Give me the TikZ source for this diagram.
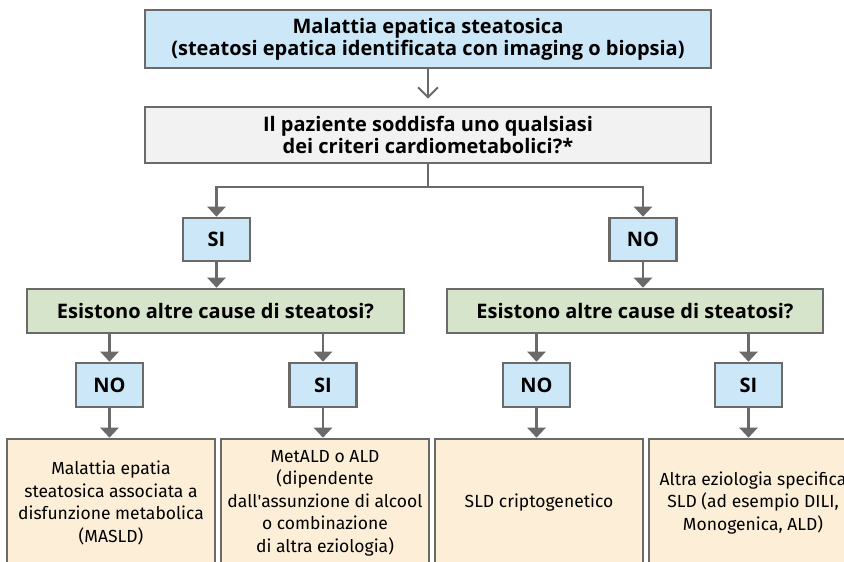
\documentclass[tikz,border=0pt]{standalone}
\usepackage{fontspec}
\setmainfont{Fira Sans}
\newfontfamily\headfont{Open Sans}
\usetikzlibrary{arrows.meta}
\definecolor{bord}{HTML}{6A6A6A}
\definecolor{bluef}{HTML}{CCE8F8}
\definecolor{grayf}{HTML}{F2F2F2}
\definecolor{greenf}{HTML}{D6E4CC}
\definecolor{beigef}{HTML}{FDEFD7}
\tikzset{
  x=1pt, y=-1pt,
  box/.style={draw=bord, line width=2.6pt, rectangle, inner sep=0pt, align=center,
    font=\headfont\bfseries\fontsize{20}{22}\selectfont},
  bluebox/.style={box, fill=bluef},
  graybox/.style={box, fill=grayf},
  greenbox/.style={box, fill=greenf, minimum height=44pt},
  yn/.style={box, fill=bluef, minimum width=67pt, minimum height=43pt},
  leaf/.style={box, fill=beigef, minimum width=208pt, minimum height=128pt,
    font=\fontsize{17.5}{22.5}\selectfont},
  conn/.style={draw=bord, line width=2.6pt},
  tip/.style={conn, -{Triangle[width=18pt,length=10pt]}},
  opentip/.style={draw=bord, line width=2pt, -{Straight Barb[width=20pt,length=10pt,line width=2pt]}}
}
\begin{document}
\begin{tikzpicture}
\useasboundingbox (0,0) rectangle (844,562);
\clip (0,0) rectangle (844,562);
\node[bluebox, minimum width=566pt, minimum height=58pt] (top) at (428,39)
  {Malattia epatica steatosica\\(steatosi epatica identificata con imaging o biopsia)};
\node[graybox, minimum width=566pt, minimum height=56pt] (q) at (428,135)
  {Il paziente soddisfa uno qualsiasi\\dei criteri cardiometabolici?*};
\node[yn] (si) at (216.5,239.5) {SI};
\node[yn] (no) at (643,239.5) {NO};
\node[greenbox, minimum width=377pt] (gl) at (215.5,311) {Esistono altre cause di steatosi?};
\node[greenbox, minimum width=376pt] (gr) at (635,311) {Esistono altre cause di steatosi?};
\node[yn, minimum height=44pt] (nol) at (109.5,385) {NO};
\node[yn, minimum height=44pt] (sil) at (323,385) {SI};
\node[yn, minimum height=44pt] (nor) at (536.5,385) {NO};
\node[yn, minimum height=44pt] (sir) at (748.5,385) {SI};
\node[leaf] (b1) at (111,503) {Malattia epatia\\steatosica associata a\\disfunzione metabolica\\(MASLD)};
\node[leaf] (b2) at (325,503) {MetALD o ALD\\(dipendente\\dall\textquotesingle assunzione di alcool\\o combinazione\\di altra eziologia)};
\node[leaf] (b3) at (539,503) {SLD criptogenetico};
\node[leaf] (b4) at (753,503) {Altra eziologia specifica\\SLD (ad esempio DILI,\\Monogenica, ALD)};
\coordinate (j) at (428,187);
\draw[opentip, shorten >=7pt] (top.south) -- (q.north);
\draw[conn] (q.south) -- (j);
\draw[tip] (j) -| (si.north);
\draw[tip] (j) -| (no.north);
\draw[tip] (si.south) -- (si.south |- gl.north);
\draw[tip] (no.south) -- (no.south |- gr.north);
\draw[tip] (nol.north |- gl.south) -- (nol.north);
\draw[tip] (sil.north |- gl.south) -- (sil.north);
\draw[tip] (nor.north |- gr.south) -- (nor.north);
\draw[tip] (sir.north |- gr.south) -- (sir.north);
\draw[tip] (nol.south) -- (nol.south |- b1.north);
\draw[tip] (sil.south) -- (sil.south |- b2.north);
\draw[tip] (nor.south) -- (nor.south |- b3.north);
\draw[tip] (sir.south) -- (sir.south |- b4.north);
\end{tikzpicture}
\end{document}
